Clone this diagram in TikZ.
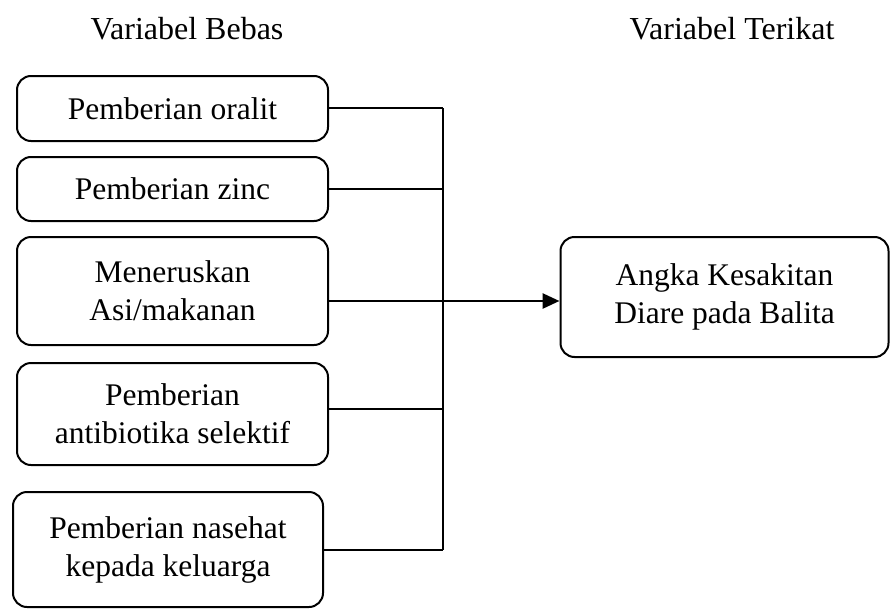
\documentclass[tikz,border=0pt]{standalone}
\usepackage{fontspec}
\setmainfont{Liberation Serif}
\usetikzlibrary{arrows.meta}
\begin{document}
\begin{tikzpicture}[x=1pt,y=-1pt,
  vbox/.style={draw, line width=2pt, rounded corners=14pt, align=center,
               inner sep=0pt, font=\fontsize{31.5}{38}\selectfont},
  link/.style={line width=2pt},
  arr/.style={line width=2.8pt, -{Triangle[length=17pt,width=15pt]}},
  ttl/.style={font=\fontsize{32}{38}\selectfont, anchor=base}]
\useasboundingbox (0,0) rectangle (890,610);
\node[ttl] (tl) at (187,40) {Variabel Bebas};
\node[ttl] (tr) at (732,40) {Variabel Terikat};
\node[vbox, minimum width=311pt, minimum height=65pt] (b1) at (172.5,108.5) {Pemberian oralit};
\node[vbox, minimum width=311pt, minimum height=64pt] (b2) at (172.5,189) {Pemberian zinc};
\node[vbox, minimum width=311pt, minimum height=108pt] (b3) at (172.5,291) {Meneruskan\\Asi/makanan};
\node[vbox, minimum width=311pt, minimum height=102pt] (b4) at (172.5,414) {Pemberian\\antibiotika selektif};
\node[vbox, minimum width=310pt, minimum height=115pt] (b5) at (168,549.5) {Pemberian nasehat\\kepada keluarga};
\node[vbox, minimum width=328pt, minimum height=120pt] (t) at (724.5,297) {Angka Kesakitan\\Diare pada Balita};
\coordinate (j1) at (443,108);
\coordinate (j2) at (443,189);
\coordinate (j3) at (443,301);
\coordinate (j4) at (443,409);
\coordinate (j5) at (443,550);
\draw[link] (b1.east |- j1) -- (j1);
\draw[link] (b2.east |- j2) -- (j2);
\draw[link] (b3.east |- j3) -- (j3);
\draw[link] (b4.east |- j4) -- (j4);
\draw[link] (b5.east |- j5) -- (j5);
\draw[link] (j1) -- (j5);
\draw[arr] (j3) -- (t.west |- j3);
\end{tikzpicture}
\end{document}
